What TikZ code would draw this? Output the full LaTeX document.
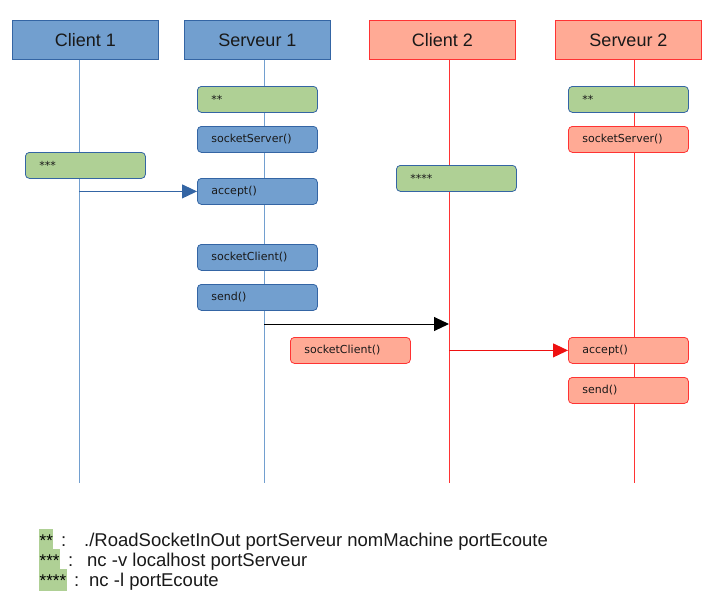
\documentclass[tikz,border=0pt]{standalone}
\usepackage{fontspec}
\setmainfont{Liberation Sans}
\newfontfamily\boxfont{DejaVu Sans}
\usetikzlibrary{arrows.meta}

\definecolor{bluefill}{HTML}{729FCF}
\definecolor{blueline}{HTML}{3465A4}
\definecolor{redfill}{HTML}{FFAA95}
\definecolor{redline}{HTML}{FF3333}
\definecolor{redtip}{HTML}{EE1111}
\definecolor{greenfill}{HTML}{AFD095}

\begin{document}
\begin{tikzpicture}[x=1pt,y=-1pt,
    head/.style={draw,line width=1pt,minimum width=146pt,minimum height=39pt,inner sep=0pt,
      font=\fontsize{18}{20}\selectfont,text=black!90,anchor=north west},
    headblue/.style={head,fill=bluefill,draw=blueline},
    headred/.style={head,fill=redfill,draw=redline},
    call/.style={draw,rounded corners=4pt,line width=0.8pt,minimum width=120pt,minimum height=26pt,
      text width=92pt,inner xsep=14pt,inner ysep=0pt,align=left,anchor=north west,
      font=\boxfont\fontsize{11}{13}\selectfont,text=black!90},
    callblue/.style={call,fill=bluefill,draw=blueline},
    callred/.style={call,fill=redfill,draw=redline},
    callgreen/.style={call,fill=greenfill,draw=blueline},
    lifeblue/.style={line width=1pt,draw=bluefill},
    lifered/.style={line width=1pt,draw=redline},
    msg/.style={line width=1pt,-{Triangle[length=15pt,width=14pt]}},
    legstar/.style={fill=greenfill,inner xsep=0.5pt,inner ysep=0pt,text height=17pt,text depth=3pt,
      anchor=north west,font=\fontsize{17}{20}\selectfont},
    legtext/.style={anchor=base west,inner sep=0pt,font=\fontsize{18.5}{20}\selectfont,text=black!90}]
  \useasboundingbox (0,0) rectangle (726,614);

  % lifelines
  \coordinate (c1top) at (79,59);   \coordinate (c1bot) at (79,483);
  \coordinate (s1top) at (264,59);  \coordinate (s1bot) at (264,483);
  \coordinate (c2top) at (449,59);  \coordinate (c2bot) at (449,483);
  \coordinate (s2top) at (634,59);  \coordinate (s2bot) at (634,483);
  \draw[lifeblue] (c1top) -- (c1bot);
  \draw[lifeblue] (s1top) -- (s1bot);
  \draw[lifered] (c2top) -- (c2bot);
  \draw[lifered] (s2top) -- (s2bot);

  % heads
  \node[headblue] (c1) at (12,20) {Client 1};
  \node[headblue] (s1) at (184,20) {Serveur 1};
  \node[headred] (c2) at (369,20) {Client 2};
  \node[headred] (s2) at (555,20) {Serveur 2};

  % calls
  \node[callgreen] (s1star) at (197,86) {**};
  \node[callblue] (s1sock) at (197,126) {socketServer()};
  \node[callgreen] (c1star) at (25,152) {***};
  \node[callblue] (s1acc) at (197,178) {accept()};
  \node[callblue] (s1cli) at (197,244) {socketClient()};
  \node[callblue] (s1send) at (197,284) {send()};
  \node[callgreen] (c2star) at (396,165) {****};
  \node[callred] (c2cli) at (290,337) {socketClient()};
  \node[callgreen] (s2star) at (568,86) {**};
  \node[callred] (s2sock) at (568,126) {socketServer()};
  \node[callred] (s2acc) at (568,337) {accept()};
  \node[callred] (s2send) at (568,377) {send()};

  % messages
  \coordinate (snd1) at (264,324);
  \draw[msg,color=blueline] (c1top |- s1acc.west) -- (s1acc.west);
  \draw[msg,color=black] (snd1) -- (c2top |- snd1);
  \draw[msg,color=redtip] (c2top |- s2acc.west) -- (s2acc.west);

  % legend
  \node[legstar] (k1) at (39,529) {**};
  \node[legstar] (k2) at (39,549) {***};
  \node[legstar,text depth=5pt] (k3) at (39,569) {****};
  \node[legtext] (k1c) at (61,546) {:};
  \node[legtext] (k2c) at (68,566) {:};
  \node[legtext] (k3c) at (74,586) {:};
  \node[legtext] (k1t) at (84,546) {./RoadSocketInOut portServeur nomMachine portEcoute};
  \node[legtext] (k2t) at (87,566) {nc -v localhost portServeur};
  \node[legtext] (k3t) at (89,586) {nc -l portEcoute};
\end{tikzpicture}
\end{document}
